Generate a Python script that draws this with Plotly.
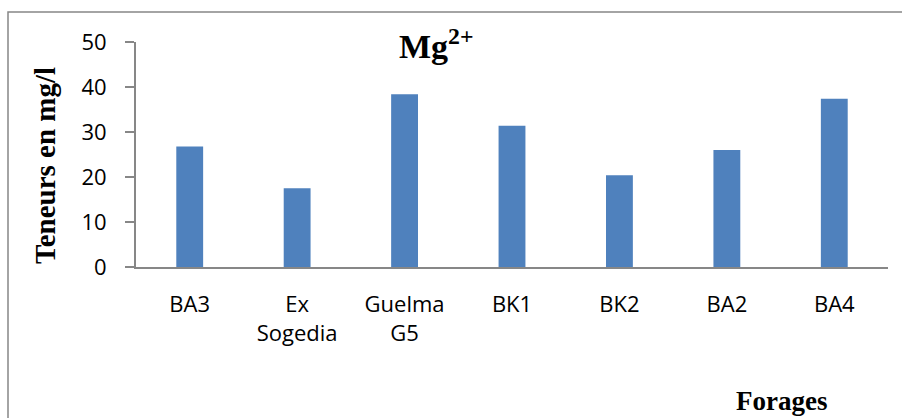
import plotly.graph_objects as go

# Magnesium content per borehole (mg/l)
forages = ["BA3", "Ex<br>Sogedia", "Guelma<br>G5", "BK1", "BK2", "BA2", "BA4"]
mg_values = [26.8, 17.5, 38.4, 31.4, 20.4, 26.0, 37.4]
y_ticks = [0, 10, 20, 30, 40, 50]

W, H = 902, 418
L, R, T, B = 136, 14, 42, 151

AXIS_COLOR = "#878787"
BAR_COLOR = "#4F81BD"
TICK_FONT = dict(family="Open Sans, sans-serif", size=22, color="#000000")
SERIF_BOLD = "Liberation Serif, Times New Roman, serif"

fig = go.Figure(
    go.Bar(
        x=forages,
        y=mg_values,
        width=0.25,
        marker=dict(color=BAR_COLOR, line=dict(width=0)),
    )
)

pw, ph = W - L - R, H - T - B


def px_x(x):
    return (x - L) / pw


def px_y(y):
    return (H - B - y) / ph


fig.update_layout(
    width=W,
    height=H,
    margin=dict(l=L, r=R, t=T, b=B),
    paper_bgcolor="white",
    plot_bgcolor="white",
    showlegend=False,
    bargap=0.75,
    xaxis=dict(
        showline=True,
        linecolor=AXIS_COLOR,
        linewidth=2,
        ticks="",
        showgrid=False,
        zeroline=False,
        tickfont=TICK_FONT,
        ticklabelstandoff=17,
        fixedrange=True,
    ),
    yaxis=dict(
        range=[0, 50],
        tickvals=y_ticks,
        showline=True,
        linecolor=AXIS_COLOR,
        linewidth=2,
        ticks="outside",
        ticklen=9,
        tickwidth=2,
        tickcolor=AXIS_COLOR,
        showgrid=False,
        zeroline=False,
        tickfont=TICK_FONT,
        ticklabelstandoff=14,
        fixedrange=True,
    ),
    shapes=[
        dict(
            type="rect",
            xref="paper",
            yref="paper",
            x0=px_x(8),
            x1=px_x(920),
            y0=px_y(440),
            y1=px_y(12),
            line=dict(color=AXIS_COLOR, width=1.5),
            fillcolor="rgba(0,0,0,0)",
            layer="below",
        )
    ],
    annotations=[
        dict(
            text="<b>Mg<sup>2+</sup></b>",
            xref="paper",
            yref="paper",
            x=px_x(436),
            y=px_y(44),
            xanchor="center",
            yanchor="middle",
            showarrow=False,
            font=dict(family=SERIF_BOLD, size=34, color="#000000"),
        ),
        dict(
            text="<b>Teneurs en mg/l</b>",
            xref="paper",
            yref="paper",
            x=px_x(45),
            y=px_y(166),
            xanchor="center",
            yanchor="middle",
            textangle=-90,
            showarrow=False,
            font=dict(family=SERIF_BOLD, size=29, color="#000000"),
        ),
        dict(
            text="<b>Forages</b>",
            xref="paper",
            yref="paper",
            x=px_x(781),
            y=px_y(401),
            xanchor="center",
            yanchor="middle",
            showarrow=False,
            font=dict(family=SERIF_BOLD, size=27, color="#000000"),
        ),
    ],
)

fig.write_html("out.html")
